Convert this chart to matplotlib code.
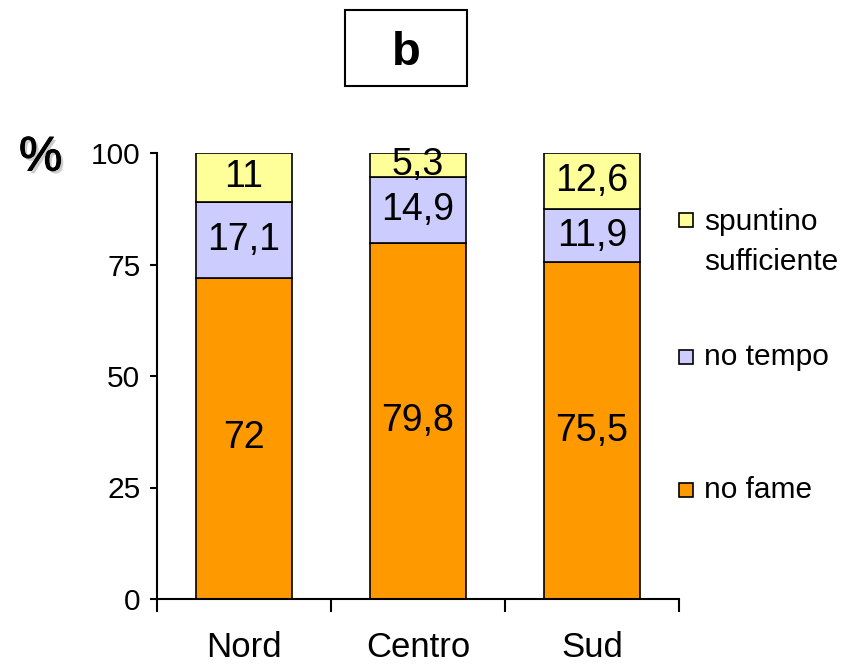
import matplotlib
matplotlib.use("Agg")
import matplotlib.pyplot as plt
import matplotlib.patheffects as pe
from matplotlib import font_manager
from matplotlib.patches import Rectangle
import numpy as np

# data
regioni = ["Nord", "Centro", "Sud"]
no_fame = [72, 79.8, 75.5]
no_tempo = [17.1, 14.9, 11.9]
spuntino = [11, 5.3, 12.6]
serie_labels = ["no fame", "no tempo", "spuntino\nsufficiente"]
colori = ["#FF9900", "#CCCCFF", "#FFFF99"]
yticks = [0, 25, 50, 75, 100]

names = {f.name for f in font_manager.fontManager.ttflist}
narrow = "Liberation Sans Narrow" if "Liberation Sans Narrow" in names else "Liberation Sans"
plt.rcParams['font.family'] = [narrow, "DejaVu Sans"]

W, H = 846, 666
fig = plt.figure(figsize=(W / 100, H / 100), dpi=100)

def fx(px):
    return px / W

def fy(py):
    return 1 - py / H

ax = fig.add_axes([fx(157), fy(599), fx(679) - fx(157), fy(153) - fy(599)])

x = np.arange(len(regioni))
serie = [no_fame, no_tempo, spuntino]
bottom = np.zeros(len(regioni))
for vals, col in zip(serie, colori):
    vals = np.array(vals)
    ax.bar(x, vals, 0.55, bottom=bottom, color=col, edgecolor="black", linewidth=1.2)
    for xi, b, v in zip(x, bottom, vals):
        ax.text(xi, b + v / 2, f"{v:g}".replace(".", ","), ha="center", va="center",
                fontsize=27)
    bottom += vals

ax.set_xlim(-0.5, 2.5)
ax.set_ylim(0, 100)
ax.set_yticks(yticks)
ax.set_xticks(x)
ax.set_xticklabels(regioni, fontsize=25)
ax.set_xticks(np.arange(-0.5, 3, 1), minor=True)
ax.tick_params(axis="x", which="major", length=0, pad=23)
ax.tick_params(axis="x", which="minor", length=9.5, width=1.5, direction="out")
ax.tick_params(axis="y", length=5, width=1.5, pad=7, labelsize=21.5)
for s in ["top", "right"]:
    ax.spines[s].set_visible(False)
for s in ["left", "bottom"]:
    ax.spines[s].set_linewidth(1.5)

# legend drawn by hand on the right
leg_y = [490, 357, 220]
for lab, col, yy in zip(serie_labels, colori, leg_y):
    fig.patches.append(Rectangle((fx(679), fy(yy + 7)), fx(14), 14 / H, facecolor=col,
                                 edgecolor="black", linewidth=1.2, transform=fig.transFigure))
    if "\n" in lab:
        fig.text(fx(704), fy(yy - 12), lab, ha="left", va="top", fontsize=21.5, linespacing=1.55)
    else:
        fig.text(fx(704), fy(yy), lab, ha="left", va="center", fontsize=21.5)

# "%" label with a soft shadow
fig.text(fx(19), fy(158), "%", fontsize=35, va="center", ha="left", family="Liberation Sans",
         path_effects=[pe.SimplePatchShadow(offset=(2, -2), shadow_rgbFace="#aaaaaa", alpha=0.6),
                       pe.Stroke(linewidth=0.8, foreground="black"), pe.Normal()])

# boxed panel letter
fig.patches.append(Rectangle((fx(345), fy(86)), fx(467) - fx(345), fy(10) - fy(86),
                             facecolor="white", edgecolor="black", linewidth=1.5,
                             transform=fig.transFigure))
fig.text(fx(406), fy(53), "b", fontsize=34, fontweight="bold", family="Liberation Sans",
         ha="center", va="center")

fig.savefig("out.png", dpi=100)
